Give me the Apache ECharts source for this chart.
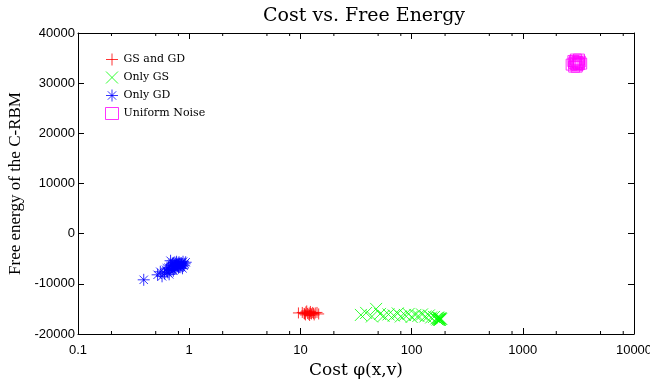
<!DOCTYPE html>
<html>
<head>
<meta charset="utf-8">
<script src="https://cdn.jsdelivr.net/npm/echarts@6/dist/echarts.min.js"></script>
<style>
  html, body { margin: 0; padding: 0; background: #fff; }
  #chart { width: 650px; height: 380px; }
</style>
</head>
<body>
<div id="chart"></div>
<script>
// Series: [cost, free energy]
const gsAndGd = [
  [9.6, -15800], [10.4, -15700], [10.9, -16000], [11.2, -15600], [11.4, -15400],
  [11.6, -15900], [11.9, -16100], [12.1, -16300], [12.0, -15800], [12.3, -15500],
  [12.6, -16000], [12.9, -15700], [13.1, -15900], [13.3, -16200], [13.6, -15800],
  [14.1, -15700], [14.6, -16000], [10.8, -15900], [11.1, -16200], [12.4, -15900]
];
const onlyGs = [
  [35, -16200], [39, -15800], [44, -16500], [48, -15000], [52, -16000],
  [56, -16400], [62, -16100], [69, -16300], [75, -15900], [80, -16500],
  [87, -16200], [94, -16000], [100, -16600], [108, -16200], [115, -16400],
  [124, -16100], [133, -16500], [143, -16300], [150, -16700], [159, -16600],
  [167, -16900], [171, -17100], [174, -16800], [176, -17200], [178, -17000],
  [180, -17200], [182, -16900], [185, -17000], [173, -16700], [179, -16900]
];
const onlyGd = [
  [0.39, -9200], [0.52, -8200], [0.55, -7600], [0.57, -8500], [0.60, -7900],
  [0.62, -7200], [0.64, -7700], [0.65, -6800], [0.66, -8100], [0.68, -5400],
  [0.69, -6400], [0.70, -7100], [0.71, -6000], [0.72, -7400], [0.73, -5800],
  [0.74, -6600], [0.75, -6200], [0.76, -7000], [0.77, -5600], [0.78, -6500],
  [0.79, -6000], [0.80, -6800], [0.81, -5700], [0.82, -6300], [0.83, -6000],
  [0.84, -6600], [0.85, -5900], [0.86, -6200], [0.88, -5600], [0.89, -6400],
  [0.91, -6000], [0.93, -5700], [0.70, -6200], [0.74, -6900], [0.67, -7300],
  [0.63, -6900], [0.87, -6900], [0.80, -6100], [0.76, -5900], [0.72, -6400]
];
const uniformNoise = [
  [2750, 33700], [2900, 34000], [2950, 34300], [3000, 33800], [3000, 34700],
  [3050, 33300], [3100, 34200], [3150, 34000], [3200, 33800], [3250, 34300],
  [3350, 33900], [3100, 33600], [2850, 34400], [3200, 34700], [2900, 33300]
];

const seriesNames = ['GS and GD', 'Only GS', 'Only GD', 'Uniform Noise'];
const xTicks = [0.1, 1, 10, 100, 1000, 10000];
const yTicks = [-20000, -10000, 0, 10000, 20000, 30000, 40000];
// minor ticks on the log axis: 2, 5 and 8 of each decade
const xMinorTicks = [0.2, 0.5, 0.8, 2, 5, 8, 20, 50, 80, 200, 500, 800, 2000, 5000, 8000];

const SERIF = '"DejaVu Serif", serif';
const TIMES = '"Liberation Serif", "Times New Roman", serif';
const SANS = '"Liberation Sans", Arial, sans-serif';

const plusPath = 'path://M0,5L10,5M5,0L5,10';
const crossPath = 'path://M0,0L10,10M10,0L0,10';
const starPath = 'path://M0,5L10,5M5,0L5,10M1.5,1.5L8.5,8.5M8.5,1.5L1.5,8.5';

function markerStyle(c) {
  return { color: 'transparent', borderColor: c, borderWidth: 1 };
}

const chart = echarts.init(document.getElementById('chart'), null, { renderer: 'canvas' });

const axisLine = { show: true, onZero: false, lineStyle: { color: '#000', width: 1 } };
const xMin = xTicks[0], xMax = xTicks[xTicks.length - 1];
const yMin = yTicks[0], yMax = yTicks[yTicks.length - 1];

chart.setOption({
  animation: false,
  backgroundColor: '#fff',
  title: {
    text: 'Cost vs. Free Energy',
    left: 258,
    top: 2,
    textStyle: { fontFamily: SERIF, fontSize: 19, fontWeight: 'normal', color: '#000' }
  },
  grid: {
    left: 78, right: 16, top: 33, bottom: 46,
    containLabel: false,
    outerBoundsMode: 'none'
  },
  legend: {
    orient: 'vertical',
    left: 100,
    top: 48,
    itemWidth: 13,
    itemHeight: 12,
    itemGap: 5,
    itemStyle: { borderWidth: 1 },
    textStyle: { fontFamily: SERIF, fontSize: 11, color: '#000' },
    data: seriesNames
  },
  xAxis: [{
    type: 'log',
    logBase: 10,
    min: xMin,
    max: xMax,
    name: 'Cost φ(x,v)',
    nameLocation: 'middle',
    nameGap: 28,
    nameTextStyle: { fontFamily: SERIF, fontSize: 17, color: '#000' },
    axisLine: axisLine,
    axisTick: { show: true, inside: true, length: 6, lineStyle: { color: '#000' } },
    axisLabel: {
      fontFamily: SANS, fontSize: 13, color: '#000', margin: 10,
      formatter: v => String(v)
    },
    splitLine: { show: false }
  }, {
    type: 'log',
    logBase: 10,
    min: xMin,
    max: xMax,
    position: 'top',
    axisLine: axisLine,
    axisTick: { show: true, inside: true, length: 6, lineStyle: { color: '#000' } },
    axisLabel: { show: false },
    splitLine: { show: false }
  }],
  yAxis: [{
    type: 'value',
    min: yMin,
    max: yMax,
    interval: 10000,
    name: 'Free energy of the C-RBM',
    nameLocation: 'middle',
    nameGap: 52,
    nameTextStyle: { fontFamily: TIMES, fontSize: 17, color: '#000' },
    axisLine: axisLine,
    axisTick: { show: true, inside: true, length: 6, lineStyle: { color: '#000' } },
    axisLabel: {
      fontFamily: SANS, fontSize: 13, color: '#000', margin: 3,
      formatter: v => String(v)
    },
    splitLine: { show: false }
  }, {
    type: 'value',
    min: yMin,
    max: yMax,
    interval: 10000,
    position: 'right',
    axisLine: axisLine,
    axisTick: { show: true, inside: true, length: 6, lineStyle: { color: '#000' } },
    axisLabel: { show: false },
    splitLine: { show: false }
  }],
  series: [
    {
      name: 'minor ticks',
      type: 'custom',
      silent: true,
      legendHoverLink: false,
      data: xMinorTicks.map(v => [v]),
      renderItem: function (params, api) {
        const v = api.value(0);
        const b = api.coord([v, yMin]);
        const t = api.coord([v, yMax]);
        const style = { stroke: '#000', lineWidth: 1 };
        return {
          type: 'group',
          children: [
            { type: 'line', shape: { x1: b[0], y1: b[1], x2: b[0], y2: b[1] - 3 }, style: style },
            { type: 'line', shape: { x1: t[0], y1: t[1], x2: t[0], y2: t[1] + 3 }, style: style }
          ]
        };
      },
      z: 1
    },
    {
      name: seriesNames[0], type: 'scatter', data: gsAndGd,
      symbol: plusPath, symbolSize: 11, itemStyle: markerStyle('#ff0000'), z: 3
    },
    {
      name: seriesNames[1], type: 'scatter', data: onlyGs,
      symbol: crossPath, symbolSize: 12, itemStyle: markerStyle('#00ff00'), z: 3
    },
    {
      name: seriesNames[2], type: 'scatter', data: onlyGd,
      symbol: starPath, symbolSize: 12, itemStyle: markerStyle('#0000ff'), z: 3
    },
    {
      name: seriesNames[3], type: 'scatter', data: uniformNoise,
      symbol: 'rect', symbolSize: 11, itemStyle: markerStyle('#ff00ff'), z: 3
    }
  ]
});
</script>
</body>
</html>
